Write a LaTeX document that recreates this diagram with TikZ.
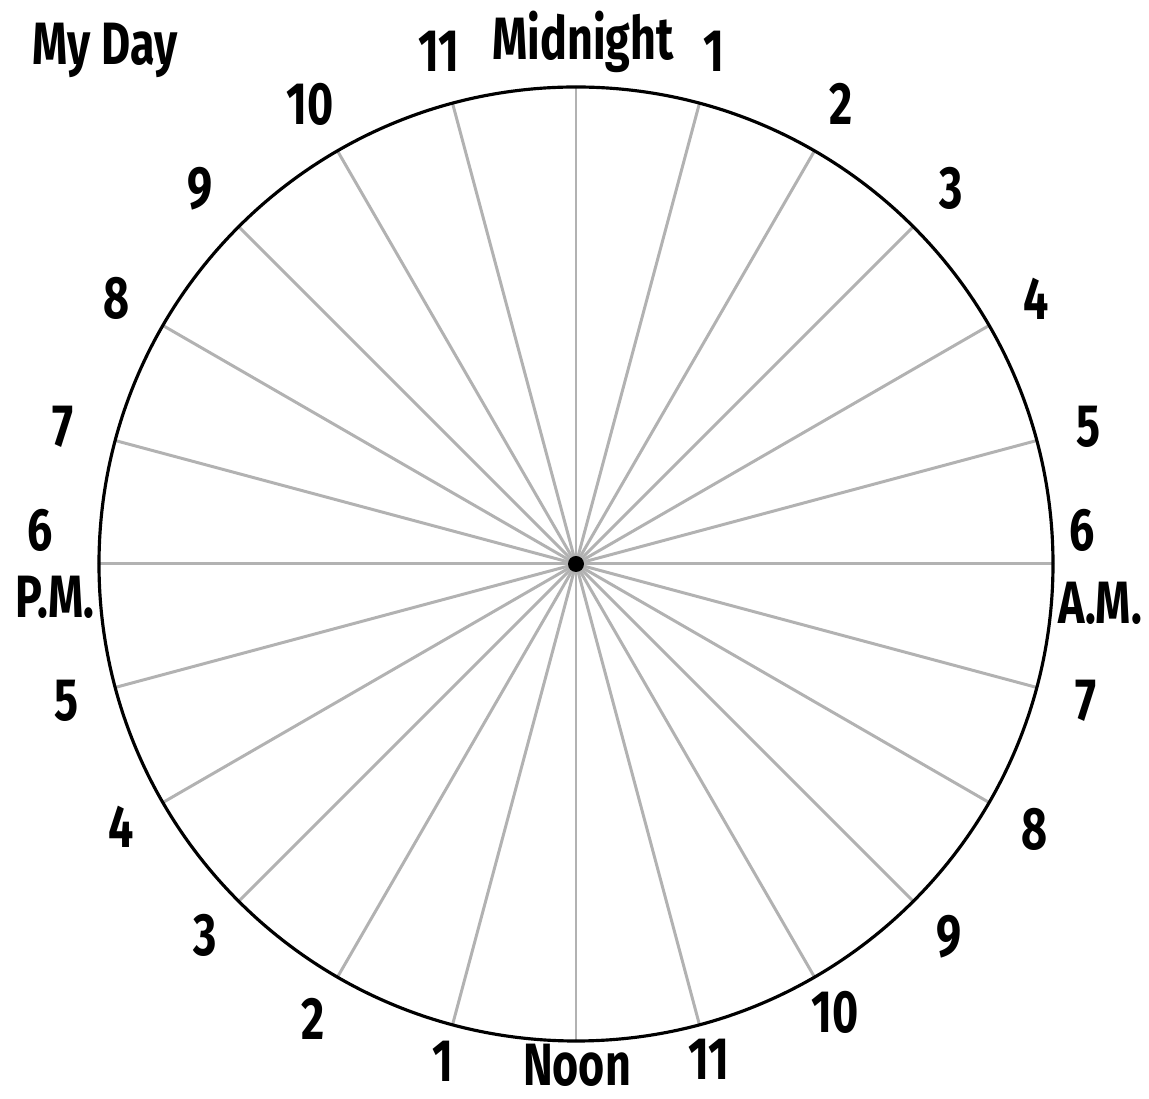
\documentclass[tikz,border=0pt]{standalone}
\usepackage{fontspec}
\setmainfont{Fira Sans}[FakeStretch=0.75]
\begin{document}
\begin{tikzpicture}[line cap=round,line join=round,
  spoke/.style={line width=1.7pt,draw=black!30},
  hour/.style={font=\fontsize{34}{36}\selectfont\bfseries,inner sep=0pt}]
  \useasboundingbox (-11.52,-10.70) rectangle (11.46,11.28);
  \coordinate (O) at (0,0);
  % spokes, one per hour
  \foreach \k in {0,...,23}
    \draw[spoke] (O) -- (\k*15:9.54);
  \draw[line width=1.8pt] (O) circle[radius=9.54];
  \fill (O) circle[radius=0.16];
  % hours round the dial, upper half then lower half
  \foreach \h/\r in {1/10.3,2/10.5,3/10.5,4/10.5,5/10.55} {
    \node[hour] (am\h) at ({90-15*\h}:10.62) {\h};
    \node[hour] (pm\h) at ({-90-15*\h}:\r) {\h};
  }
  \foreach \h/\r in {7/10.55,8/10.6,9/10.55,10/10.35,11/10.25} {
    \node[hour] (am\h) at ({90-15*\h}:\r) {\h};
    \node[hour] (pm\h) at ({-90-15*\h}:10.62) {\h};
  }
  \node[hour] (am6) at (10.12,0.68) {6};
  \node[hour] (amlabel) at (10.48,-0.78) {A.M.};
  \node[hour] (pm6) at (-10.72,0.68) {6};
  \node[hour] (pmlabel) at (-10.42,-0.66) {P.M.};
  \node[hour] (midnight) at (0.14,10.44) {Midnight};
  \node[hour] (noon) at (0.02,-10.02) {Noon};
  \node[hour] (title) at (-9.42,10.28) {My Day};
\end{tikzpicture}
\end{document}
